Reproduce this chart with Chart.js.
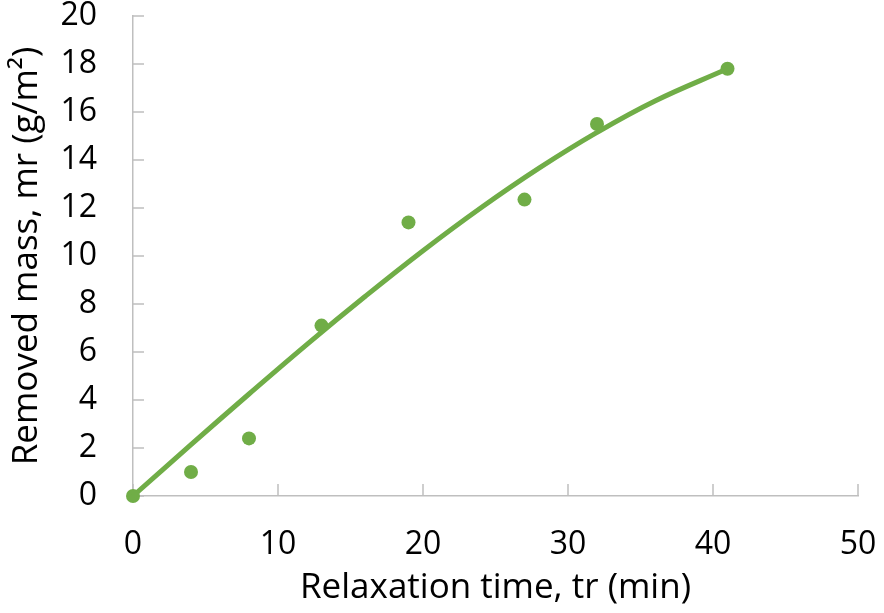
<!DOCTYPE html>
<html>
<head>
<meta charset="utf-8">
<script src="https://cdn.jsdelivr.net/npm/chart.js@4.4.1/dist/chart.umd.min.js"></script>
<style>
  html, body { margin: 0; padding: 0; background: #ffffff; }
  #box { width: 884px; height: 613px; }
</style>
</head>
<body>
<div id="box"><canvas id="grafico"></canvas></div>
<script>
// measured points
const relaxTime = [0, 4, 8, 13, 19, 27, 32, 41];
const removedMass = [0, 1.0, 2.4, 7.1, 11.4, 12.35, 15.5, 17.8];

// trend line
const trendTime = [0, 4, 8, 12, 16, 20, 24, 28, 32, 36, 41];
const trendMass = [0, 2.14, 4.25, 6.32, 8.31, 10.22, 12.01, 13.66, 15.15, 16.46, 17.8];

// tick labels
const xTicks = [0, 10, 20, 30, 40, 50];
const yTicks = [0, 2, 4, 6, 8, 10, 12, 14, 16, 18, 20];

const verde = "#70AD47";
const grigio = "#BFBFBF";
const font = "Open Sans";

document.addEventListener("DOMContentLoaded", function () {
  const punti = relaxTime.map((t, i) => ({ x: t, y: removedMass[i] }));
  const curva = trendTime.map((t, i) => ({ x: t, y: trendMass[i] }));

  // small tick marks drawn inside the plot, like Excel
  const tickInterni = {
    id: "tickInterni",
    beforeDatasetsDraw(chart) {
      const ctx = chart.ctx;
      const xs = chart.scales.x;
      const ys = chart.scales.y;
      ctx.save();
      ctx.strokeStyle = grigio;
      ctx.lineWidth = 1.5;
      ctx.beginPath();
      xTicks.forEach((v) => {
        const px = xs.getPixelForValue(v);
        ctx.moveTo(px, ys.bottom);
        ctx.lineTo(px, ys.bottom - 12);
      });
      yTicks.forEach((v) => {
        const py = ys.getPixelForValue(v);
        ctx.moveTo(xs.left, py);
        ctx.lineTo(xs.left + 11, py);
      });
      ctx.stroke();
      ctx.restore();
    },
  };

  const ctx = document.getElementById("grafico").getContext("2d");

  new Chart(ctx, {
    type: "scatter",
    data: {
      datasets: [
        {
          data: curva,
          showLine: true,
          borderColor: verde,
          borderWidth: 5,
          pointRadius: 0,
          tension: 0.4,
          clip: false,
        },
        {
          data: punti,
          backgroundColor: verde,
          borderColor: verde,
          pointRadius: 7,
          borderWidth: 0,
          clip: false,
        },
      ],
    },
    options: {
      responsive: true,
      maintainAspectRatio: false,
      animation: false,
      layout: { padding: { top: 16, right: 26, left: 0, bottom: 0 } },
      plugins: {
        legend: { display: false },
        tooltip: { enabled: false },
      },
      scales: {
        x: {
          type: "linear",
          min: 0,
          max: 50,
          afterBuildTicks: (s) => { s.ticks = xTicks.map((v) => ({ value: v })); },
          afterFit: (s) => {
            s.height = 117;
            s.paddingLeft = 0;
            s.paddingRight = 0;
          },
          grid: { display: true, drawOnChartArea: false, drawTicks: false },
          border: { display: true, color: grigio, width: 1.5 },
          ticks: { color: "#000", padding: 30, font: { family: font, size: 32 } },
          title: {
            display: true,
            text: "Relaxation time, tr (min)",
            color: "#000",
            font: { family: font, size: 35 },
            padding: { top: 0, bottom: 4 },
          },
        },
        y: {
          type: "linear",
          min: 0,
          max: 20,
          afterBuildTicks: (s) => { s.ticks = yTicks.map((v) => ({ value: v })); },
          afterFit: (s) => {
            s.width = 133;
            s.paddingTop = 0;
            s.paddingBottom = 0;
          },
          grid: { display: true, drawOnChartArea: false, drawTicks: false },
          border: { display: true, color: grigio, width: 1.5 },
          ticks: { color: "#000", padding: 36, font: { family: font, size: 32 } },
          title: {
            display: true,
            text: "Removed mass, mr (g/m²)",
            color: "#000",
            font: { family: font, size: 35 },
            padding: { top: 6, bottom: 0 },
          },
        },
      },
    },
    plugins: [tickInterni],
  });
});
</script>
</body>
</html>
